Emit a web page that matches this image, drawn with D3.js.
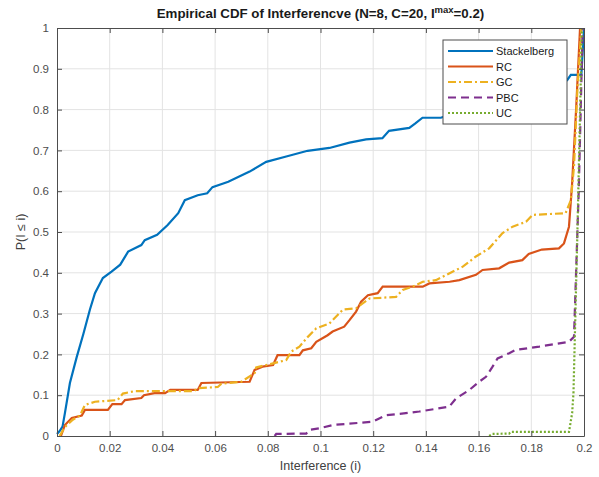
<!DOCTYPE html>
<html>
<head>
<meta charset="utf-8">
<style>
body { margin: 0; background: #fff; }
.tick text { font-family: "Liberation Sans", Arial, sans-serif; font-size: 11.5px; fill: #4d4d4d; }
.axis path, .axis line { stroke: #4d4d4d; }
</style>
</head>
<body>
<script src="https://cdn.jsdelivr.net/npm/d3@7"></script>
<script>

// tick labels
var xTicks = [0, 0.02, 0.04, 0.06, 0.08, 0.1, 0.12, 0.14, 0.16, 0.18, 0.2];
var yTicks = [0, 0.1, 0.2, 0.3, 0.4, 0.5, 0.6, 0.7, 0.8, 0.9, 1];

// series
var stackX = [0, 0.001, 0.0021, 0.003, 0.0049, 0.0075, 0.01, 0.0125, 0.0144, 0.0174, 0.0207, 0.024, 0.027, 0.032, 0.0333, 0.038, 0.042, 0.046, 0.0485, 0.0534, 0.057, 0.059, 0.065, 0.0731, 0.0794, 0.087, 0.0951, 0.1034, 0.111, 0.1173, 0.1235, 0.126, 0.1337, 0.136, 0.1387, 0.1457, 0.15, 0.16, 0.17, 0.18, 0.19, 0.1936, 0.195, 0.199, 0.2];
var stackY = [0.005, 0.012, 0.023, 0.056, 0.13, 0.194, 0.25, 0.31, 0.35, 0.387, 0.403, 0.42, 0.452, 0.468, 0.48, 0.493, 0.517, 0.546, 0.578, 0.59, 0.595, 0.61, 0.623, 0.648, 0.672, 0.685, 0.699, 0.706, 0.719, 0.727, 0.73, 0.748, 0.755, 0.766, 0.78, 0.78, 0.79, 0.81, 0.83, 0.85, 0.865, 0.872, 0.885, 0.885, 1];

var rcX = [0.0015, 0.003, 0.0056, 0.0094, 0.0106, 0.0193, 0.021, 0.0245, 0.0258, 0.032, 0.033, 0.037, 0.041, 0.043, 0.0534, 0.0548, 0.0731, 0.075, 0.078, 0.082, 0.0837, 0.092, 0.0933, 0.0965, 0.0984, 0.1027, 0.1046, 0.109, 0.111, 0.1135, 0.1154, 0.118, 0.1217, 0.1236, 0.1388, 0.1413, 0.149, 0.1527, 0.159, 0.1615, 0.1678, 0.1716, 0.1766, 0.179, 0.184, 0.1905, 0.1924, 0.1943, 0.1955, 0.197, 0.1985];
var rcY = [0, 0.027, 0.044, 0.05, 0.064, 0.064, 0.078, 0.078, 0.088, 0.093, 0.1, 0.105, 0.105, 0.113, 0.113, 0.13, 0.133, 0.162, 0.17, 0.174, 0.198, 0.198, 0.21, 0.215, 0.231, 0.247, 0.256, 0.268, 0.284, 0.305, 0.329, 0.345, 0.35, 0.366, 0.366, 0.374, 0.378, 0.382, 0.395, 0.407, 0.411, 0.425, 0.431, 0.446, 0.457, 0.46, 0.472, 0.513, 0.62, 0.8, 1];

var gcX = [0.001, 0.003, 0.006, 0.0087, 0.0106, 0.0144, 0.023, 0.025, 0.0295, 0.052, 0.0534, 0.061, 0.0624, 0.07, 0.075, 0.0756, 0.0794, 0.082, 0.087, 0.0889, 0.092, 0.0952, 0.0984, 0.1034, 0.1066, 0.1085, 0.1135, 0.116, 0.1186, 0.1287, 0.1312, 0.135, 0.1388, 0.1438, 0.149, 0.154, 0.159, 0.164, 0.169, 0.1729, 0.178, 0.1805, 0.193, 0.195, 0.1962, 0.1975, 0.199];
var gcY = [0, 0.022, 0.04, 0.05, 0.076, 0.084, 0.088, 0.104, 0.11, 0.11, 0.117, 0.12, 0.128, 0.133, 0.154, 0.168, 0.174, 0.178, 0.186, 0.207, 0.219, 0.243, 0.264, 0.276, 0.297, 0.31, 0.313, 0.325, 0.337, 0.341, 0.358, 0.366, 0.378, 0.382, 0.399, 0.415, 0.44, 0.46, 0.497, 0.513, 0.525, 0.542, 0.546, 0.578, 0.66, 0.85, 1];

var pbcX = [0.0826, 0.0832, 0.0946, 0.0958, 0.0996, 0.1047, 0.1198, 0.1249, 0.1324, 0.1375, 0.1489, 0.1514, 0.1565, 0.1602, 0.1628, 0.1653, 0.1672, 0.1716, 0.1741, 0.183, 0.1943, 0.1962, 0.198, 0.1995];
var pbcY = [0, 0.005, 0.006, 0.015, 0.019, 0.027, 0.035, 0.051, 0.056, 0.06, 0.072, 0.092, 0.113, 0.133, 0.145, 0.17, 0.19, 0.203, 0.211, 0.219, 0.231, 0.243, 0.6, 1];

var ucX = [0.164, 0.1653, 0.1716, 0.1722, 0.1943, 0.1955, 0.196, 0.1975, 0.1992];
var ucY = [0, 0.005, 0.006, 0.01, 0.01, 0.056, 0.105, 0.5, 1];

var names = ["Stackelberg", "RC", "GC", "PBC", "UC"];
var colors = ["#0072BD", "#D95319", "#EDB120", "#7E2F8E", "#77AC30"];
var dashes = [null, null, "8,3,2,3", "8,5", "2,2"];

var series = [
  {x: stackX, y: stackY},
  {x: rcX, y: rcY},
  {x: gcX, y: gcY},
  {x: pbcX, y: pbcY},
  {x: ucX, y: ucY}
];

var W = 599, H = 477;
var margin = {top: 28, right: 15, bottom: 41, left: 57};
var w = W - margin.left - margin.right,
    h = H - margin.top - margin.bottom;

var svg = d3.select("body").append("svg")
    .attr("width", W)
    .attr("height", H)
    .style("font-family", "'Liberation Sans', Arial, sans-serif");

var g = svg.append("g")
    .attr("transform", "translate(" + margin.left + "," + margin.top + ")");

var xScale = d3.scaleLinear().domain([0, 0.2]).range([0, w]);
var yScale = d3.scaleLinear().domain([0, 1]).range([h, 0]);

// grid
g.append("g").selectAll("line")
  .data(xTicks.slice(1, -1))
  .enter().append("line")
    .attr("x1", function(d) { return xScale(d); })
    .attr("x2", function(d) { return xScale(d); })
    .attr("y1", 0).attr("y2", h)
    .attr("stroke", "#e3e3e3");

g.append("g").selectAll("line")
  .data(yTicks.slice(1, -1))
  .enter().append("line")
    .attr("y1", function(d) { return yScale(d); })
    .attr("y2", function(d) { return yScale(d); })
    .attr("x1", 0).attr("x2", w)
    .attr("stroke", "#e3e3e3");

// curves
var line = d3.line()
    .x(function(d) { return xScale(d[0]); })
    .y(function(d) { return yScale(d[1]); });

series.forEach(function(s, i) {
  var pts = s.x.map(function(v, j) { return [v, s.y[j]]; });
  g.append("path")
    .attr("d", line(pts))
    .attr("fill", "none")
    .attr("stroke", colors[i])
    .attr("stroke-width", 2.2)
    .attr("stroke-dasharray", dashes[i]);
});

// axes, ticks inward
var fmt = function(d) { return d3.format("")(+d.toFixed(2)); };

g.append("g").attr("class", "axis")
  .attr("transform", "translate(0," + h + ")")
  .call(d3.axisBottom(xScale).tickValues(xTicks).tickSizeInner(-5).tickSizeOuter(0).tickPadding(8).tickFormat(fmt));

g.append("g").attr("class", "axis")
  .call(d3.axisTop(xScale).tickValues(xTicks).tickSizeInner(-5).tickSizeOuter(0).tickFormat(""));

g.append("g").attr("class", "axis")
  .call(d3.axisLeft(yScale).tickValues(yTicks).tickSizeInner(-5).tickSizeOuter(0).tickPadding(8).tickFormat(fmt));

g.append("g").attr("class", "axis")
  .attr("transform", "translate(" + w + ",0)")
  .call(d3.axisRight(yScale).tickValues(yTicks).tickSizeInner(-5).tickSizeOuter(0).tickFormat(""));

// title
var title = svg.append("text")
    .attr("x", margin.left + w / 2)
    .attr("y", 18)
    .attr("text-anchor", "middle")
    .attr("font-size", "13.3px")
    .attr("font-weight", "bold")
    .attr("fill", "#1a1a1a");
title.append("tspan").text("Empirical CDF of Interferencve (N=8, C=20, I");
title.append("tspan").attr("font-size", "9.5px").attr("dy", "-5").text("max");
title.append("tspan").attr("dy", "5").text("=0.2)");

// axis titles
svg.append("text")
    .attr("x", margin.left + w / 2)
    .attr("y", 470)
    .attr("text-anchor", "middle")
    .attr("font-size", "12.5px")
    .attr("fill", "#404040")
    .text("Interference (i)");

svg.append("text")
    .attr("transform", "translate(25," + (margin.top + h / 2) + ") rotate(-90)")
    .attr("text-anchor", "middle")
    .attr("font-size", "12.5px")
    .attr("fill", "#404040")
    .text("P(I \u2264 i)");

// legend
var lg = svg.append("g").attr("transform", "translate(443,40)");
lg.append("rect")
    .attr("width", 124).attr("height", 84)
    .attr("fill", "#fff")
    .attr("stroke", "#4d4d4d");

names.forEach(function(n, i) {
  var yy = 11 + i * 15.5;
  lg.append("line")
    .attr("x1", 5).attr("x2", 50)
    .attr("y1", yy).attr("y2", yy)
    .attr("stroke", colors[i])
    .attr("stroke-width", 2.2)
    .attr("stroke-dasharray", dashes[i]);
  lg.append("text")
    .attr("x", 53).attr("y", yy + 4)
    .attr("font-size", "11px")
    .attr("fill", "#1a1a1a")
    .text(n);
});

</script>
</body>
</html>
